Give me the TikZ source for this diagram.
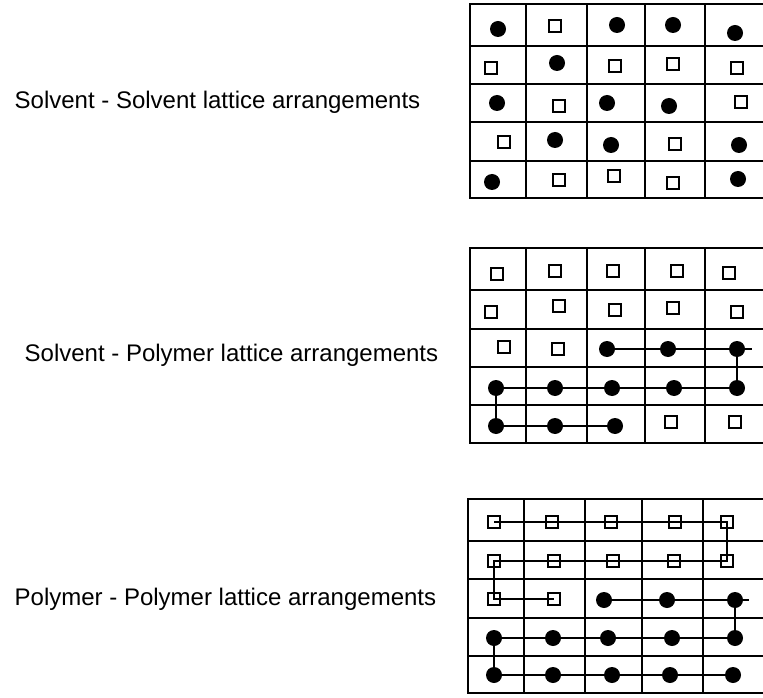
\documentclass[tikz,border=0pt]{standalone}
\usepackage{fontspec}
\setmainfont{Liberation Sans}
\usetikzlibrary{positioning}

\begin{document}
\begin{tikzpicture}[
    x=0.75pt, y=-0.75pt,
    cell/.style={line width=1.1pt},
    bond/.style={line width=1.1pt},
    solvent/.style={
        draw,
        line width=1.3pt,
        line join=miter,
        minimum size=8.8pt,
        inner sep=0pt
    },
    polymer/.style={
        circle,
        fill,
        minimum size=12pt,
        inner sep=0pt
    },
    caption/.style={
        anchor=base west,
        font=\fontsize{18}{21.6}\selectfont
    }
]
\useasboundingbox (0,0) rectangle (763,698);

% labels
\node[caption] (ss) at (10,109) {Solvent - Solvent lattice arrangements};
\node[caption] (sp) at (20,361) {Solvent - Polymer lattice arrangements};
\node[caption] (pp) at (10,605) {Polymer - Polymer lattice arrangements};

% lattice 1: solvent - solvent
\draw[cell] (470,4) rectangle (766,198);
\foreach \y in {46,84,122,161} \draw[cell] (470,\y) -- (766,\y);
\foreach \x in {526,587,645,705} \draw[cell] (\x,4) -- (\x,198);

\foreach \x/\y/\kind [count=\i] in {
    498/29/polymer, 555/26/solvent, 617/25/polymer, 673/25/polymer, 735/33/polymer,
    491/68/solvent, 557/63/polymer, 615/66/solvent, 673/64/solvent, 737/68/solvent,
    497/103/polymer, 559/106/solvent, 607/103/polymer, 669/106/polymer, 741/102/solvent,
    504/142/solvent, 555/140/polymer, 611/145/polymer, 675/144/solvent, 739/145/polymer,
    492/182/polymer, 559/180/solvent, 614/176/solvent, 673/183/solvent, 738/179/polymer}
    \node[\kind] (a-\i) at (\x,\y) {};

% lattice 2: solvent - polymer
\draw[cell] (470,248) rectangle (766,443);
\foreach \y in {290,329,367,405} \draw[cell] (470,\y) -- (766,\y);
\foreach \x in {526,587,645,705} \draw[cell] (\x,248) -- (\x,443);

\foreach \x/\y [count=\i] in {
    497/274, 555/271, 613/271, 677/271, 729/273,
    491/312, 559/306, 615/310, 673/308, 737/312,
    504/347, 558/349, 671/422, 735/422}
    \node[solvent] (b-s\i) at (\x,\y) {};

\foreach \x/\y [count=\i] in {
    607/349, 668/349, 737/349,
    737/388, 674/388, 612/388, 555/388, 496/388,
    496/426, 555/426, 615/426}
    \node[polymer] (b-p\i) at (\x,\y) {};
\coordinate (b-end) at (752,349);

\draw[bond] (b-p3.center) -- (b-end);
\draw[bond] (b-p1.center) -- (b-p2.center) -- (b-p3.center) -- (b-p4.center)
    -- (b-p5.center) -- (b-p6.center) -- (b-p7.center) -- (b-p8.center)
    -- (b-p9.center) -- (b-p10.center) -- (b-p11.center);

% lattice 3: polymer - polymer
\draw[cell] (468,499) rectangle (766,693);
\foreach \y in {541,579,618,656} \draw[cell] (468,\y) -- (766,\y);
\foreach \x in {524,585,642,703} \draw[cell] (\x,499) -- (\x,693);

\foreach \x/\y [count=\i] in {
    494/522, 552/522, 611/522, 675/522, 727/522,
    727/561, 674/561, 613/561, 554/561, 494/561,
    494/599, 554/599}
    \node[solvent] (c-s\i) at (\x,\y) {};

\draw[bond] (c-s1.center) -- (c-s2.center) -- (c-s3.center) -- (c-s4.center)
    -- (c-s5.center) -- (c-s6.center) -- (c-s7.center) -- (c-s8.center)
    -- (c-s9.center) -- (c-s10.center) -- (c-s11.center) -- (c-s12.center);

\foreach \x/\y [count=\i] in {
    604/600, 667/600, 735/600,
    735/638, 672/638, 608/638, 553/638, 494/638,
    494/675, 553/675, 612/675, 670/675, 733/675}
    \node[polymer] (c-p\i) at (\x,\y) {};
\coordinate (c-end) at (749,600);

\draw[bond] (c-p3.center) -- (c-end);
\draw[bond] (c-p1.center) -- (c-p2.center) -- (c-p3.center) -- (c-p4.center)
    -- (c-p5.center) -- (c-p6.center) -- (c-p7.center) -- (c-p8.center)
    -- (c-p9.center) -- (c-p10.center) -- (c-p11.center) -- (c-p12.center)
    -- (c-p13.center);

\end{tikzpicture}
\end{document}
